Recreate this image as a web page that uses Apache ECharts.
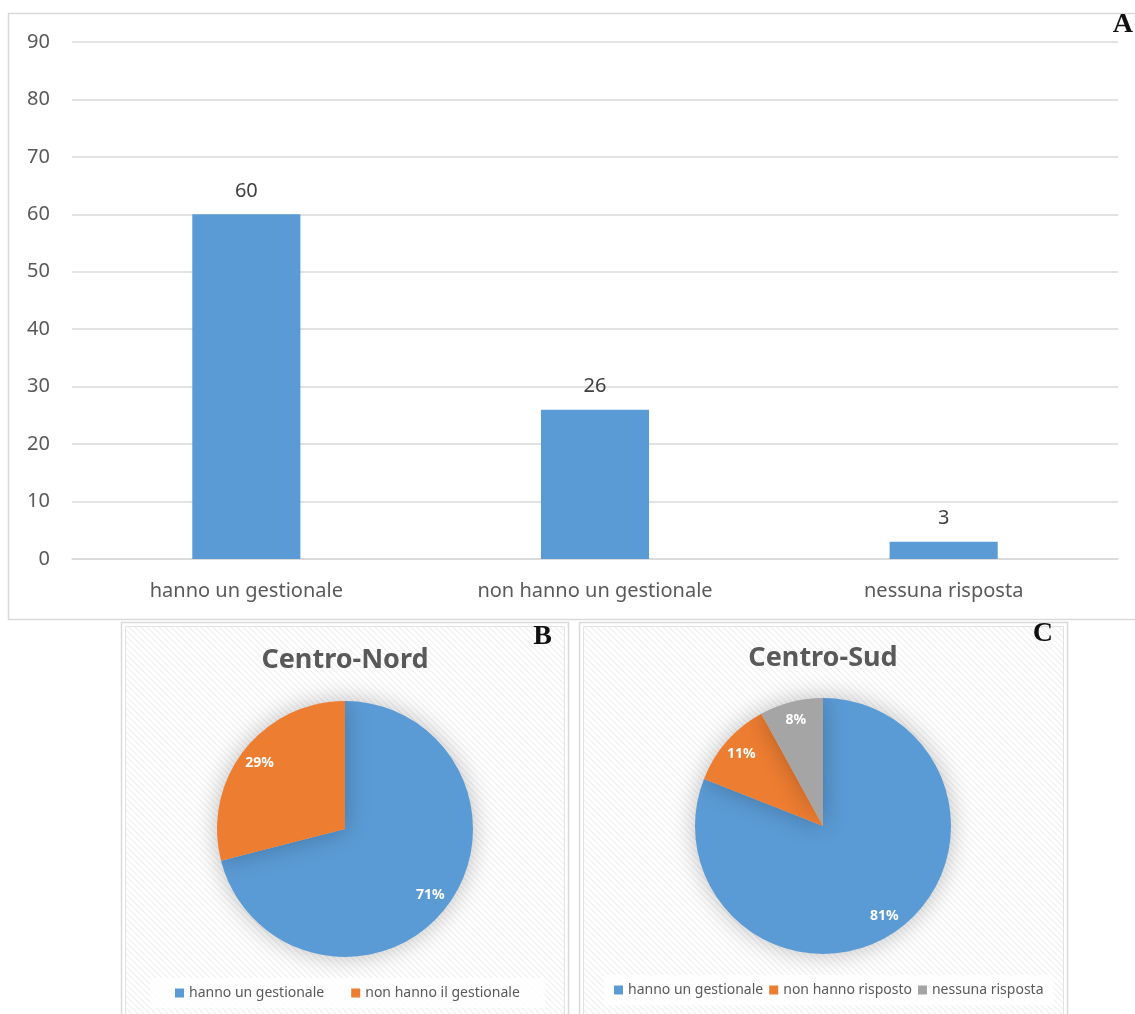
<!DOCTYPE html>
<html>
<head>
<meta charset="utf-8">
<script src="https://cdn.jsdelivr.net/npm/echarts@6/dist/echarts.min.js"></script>
<style>
html,body{margin:0;padding:0;background:#fff;}
#c{width:1135px;height:1014px;}
</style>
</head>
<body>
<div id="c"></div>
<script>
// ---- Data ----
const barCategories = ['hanno un gestionale', 'non hanno un gestionale', 'nessuna risposta'];
const barValues = [60, 26, 3];
const yTicks = [0, 10, 20, 30, 40, 50, 60, 70, 80, 90];

const pieBTitle = 'Centro-Nord';
const pieBNames = ['hanno un gestionale', 'non hanno il gestionale'];
const pieBValues = [71, 29];

const pieCTitle = 'Centro-Sud';
const pieCNames = ['hanno un gestionale', 'non hanno risposto', 'nessuna risposta'];
const pieCValues = [81, 11, 8];

const panelLetters = ['A', 'B', 'C'];

// ---- Styles ----
const BLUE = '#5B9BD5', ORANGE = '#ED7D31', GRAY = '#A5A5A5';
const FONT = '"Noto Sans", "Open Sans", sans-serif';
const SERIF = 'bold 28px "Liberation Serif", "DejaVu Serif", serif';

function hatch() {
  const c = document.createElement('canvas');
  c.width = 6; c.height = 6;
  const g = c.getContext('2d');
  g.fillStyle = '#ffffff'; g.fillRect(0, 0, 6, 6);
  g.strokeStyle = '#efefef'; g.lineWidth = 1.2;
  g.beginPath();
  g.moveTo(-1, -1); g.lineTo(7, 7);
  g.moveTo(-4, 2); g.lineTo(4, 10);
  g.moveTo(2, -4); g.lineTo(10, 4);
  g.stroke();
  return c;
}
const hatchPattern = { image: hatch(), repeat: 'repeat' };

const chart = echarts.init(document.getElementById('c'), null, { renderer: 'canvas' });

function pieData(names, values, colors) {
  return names.map((n, i) => ({ name: n, value: values[i], itemStyle: { color: colors[i] } }));
}
function labelData(names, values) {
  return names.map((n, i) => ({ name: n, value: values[i] }));
}
const colorsB = [BLUE, ORANGE];
const colorsC = [BLUE, ORANGE, GRAY];

const pieLabel = {
  show: true, position: 'inside', color: '#fff', fontWeight: 'bold',
  fontSize: 14, fontFamily: FONT,
  formatter: p => p.value + '%'
};

const legendText = { color: '#595959', fontSize: 14, fontFamily: FONT };

const option = {
  animation: false,
  backgroundColor: '#fff',
  graphic: [
    { type: 'rect', z: -10, shape: { x: 8.5, y: 13.5, width: 1140, height: 606 },
      style: { fill: '#fff', stroke: '#d9d9d9', lineWidth: 1.5 } },
    { type: 'rect', z: -10, shape: { x: 121.5, y: 622.5, width: 447, height: 400 },
      style: { fill: '#fff', stroke: '#d9d9d9', lineWidth: 1.5 } },
    { type: 'rect', z: -9, shape: { x: 125.5, y: 626.5, width: 439, height: 400 },
      style: { fill: hatchPattern, stroke: '#e3e3e3', lineWidth: 1 } },
    { type: 'rect', z: -10, shape: { x: 579.5, y: 622.5, width: 488, height: 400 },
      style: { fill: '#fff', stroke: '#d9d9d9', lineWidth: 1.5 } },
    { type: 'rect', z: -9, shape: { x: 583.5, y: 626.5, width: 480, height: 400 },
      style: { fill: hatchPattern, stroke: '#e3e3e3', lineWidth: 1 } },
    { type: 'text', z: 10, x: 345, y: 660, style: { text: pieBTitle, fill: '#595959',
      font: 'bold 27px ' + FONT, textAlign: 'center', textVerticalAlign: 'middle' } },
    { type: 'text', z: 10, x: 823, y: 658, style: { text: pieCTitle, fill: '#595959',
      font: 'bold 27px ' + FONT, textAlign: 'center', textVerticalAlign: 'middle' } },
    { type: 'text', z: 10, x: 1133, y: 25, style: { text: panelLetters[0], fill: '#111',
      font: SERIF, textAlign: 'right', textVerticalAlign: 'middle' } },
    { type: 'text', z: 10, x: 552, y: 637, style: { text: panelLetters[1], fill: '#111',
      font: SERIF, textAlign: 'right', textVerticalAlign: 'middle' } },
    { type: 'text', z: 10, x: 1053, y: 634, style: { text: panelLetters[2], fill: '#111',
      font: SERIF, textAlign: 'right', textVerticalAlign: 'middle' } }
  ],
  legend: [
    { data: pieBNames.map((n, i) => ({ name: n, itemStyle: { color: colorsB[i] } })),
      left: 150, width: 392, top: 978, orient: 'horizontal',
      itemWidth: 9, itemHeight: 9, itemGap: 27, icon: 'rect',
      textStyle: legendText,
      backgroundColor: 'rgba(255,255,255,0.8)', padding: [8, 25],
      selectedMode: false },
    { data: pieCNames.map((n, i) => ({ name: n, itemStyle: { color: colorsC[i] } })),
      left: 604, width: 442, top: 975, orient: 'horizontal',
      itemWidth: 9, itemHeight: 9, itemGap: 6, icon: 'rect',
      textStyle: legendText,
      backgroundColor: 'rgba(255,255,255,0.8)', padding: [8, 10],
      selectedMode: false }
  ],
  grid: { left: 72, right: 17, top: 42, bottom: 455 },
  xAxis: {
    type: 'category', data: barCategories,
    axisLine: { show: true, lineStyle: { color: '#d9d9d9', width: 1.5 } },
    axisTick: { show: false },
    axisLabel: { color: '#595959', fontSize: 20, fontFamily: FONT, margin: 22 }
  },
  yAxis: {
    type: 'value', min: yTicks[0], max: yTicks[yTicks.length - 1], interval: yTicks[1] - yTicks[0],
    axisLine: { show: false }, axisTick: { show: false },
    splitLine: { lineStyle: { color: '#d9d9d9', width: 1.5 } },
    axisLabel: { color: '#595959', fontSize: 20, fontFamily: FONT, margin: 22 }
  },
  series: [
    { type: 'bar', data: barValues, barWidth: '31%',
      itemStyle: { color: BLUE },
      label: { show: true, position: 'top', distance: 13, color: '#404040', fontSize: 20, fontFamily: FONT } },
    { type: 'pie', center: [345, 829], radius: 128, startAngle: 90, clockwise: true,
      data: pieData(pieBNames, pieBValues, colorsB), label: { show: false }, labelLine: { show: false },
      itemStyle: { shadowBlur: 25, shadowColor: 'rgba(0,0,0,0.25)' }, silent: true },
    { type: 'pie', center: [345, 829], radius: [82, 128], startAngle: 90, clockwise: true,
      data: labelData(pieBNames, pieBValues), itemStyle: { color: 'rgba(0,0,0,0)' },
      label: pieLabel, labelLine: { show: false }, silent: true, z: 5 },
    { type: 'pie', center: [823, 826], radius: 128, startAngle: 90, clockwise: true,
      data: pieData(pieCNames, pieCValues, colorsC), label: { show: false }, labelLine: { show: false },
      itemStyle: { shadowBlur: 25, shadowColor: 'rgba(0,0,0,0.25)' }, silent: true },
    { type: 'pie', center: [823, 826], radius: [84, 128], startAngle: 90, clockwise: true,
      data: labelData(pieCNames, pieCValues), itemStyle: { color: 'rgba(0,0,0,0)' },
      label: pieLabel, labelLine: { show: false }, silent: true, z: 5 }
  ]
};
chart.setOption(option);
</script>
</body>
</html>
